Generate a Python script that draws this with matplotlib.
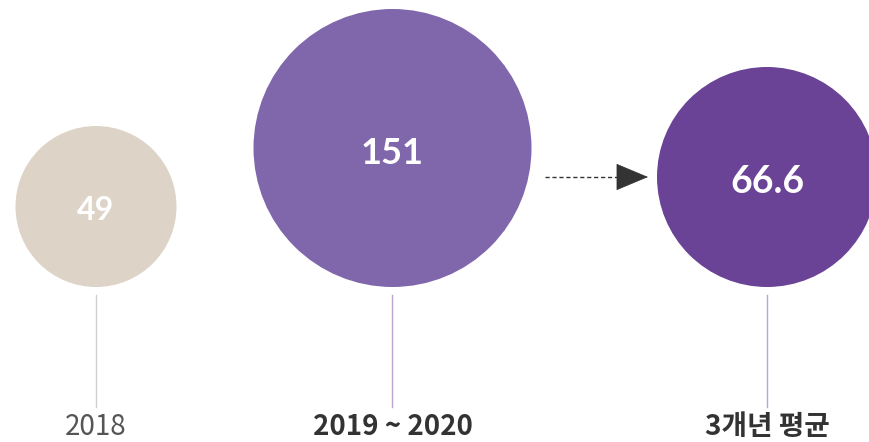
import matplotlib.pyplot as plt
from matplotlib.patches import Circle

plt.rcParams['font.family'] = ['Noto Sans CJK KR', 'DejaVu Sans']

# data
periods = ['2018', '2019 ~ 2020', '3개년 평균']
values = [49, 151, 66.6]
value_text = ['49', '151', '66.6']

# layout (pixels)
centers_x = [96, 392.5, 767]
centers_y = [206.5, 148, 177]
radii = [80.5, 139, 110]
circle_colors = ['#DDD3C7', '#8066AA', '#6A4396']
stem_colors = ['#D0D0D0', '#B7A5D2', '#B7A5D2']
label_colors = ['#555555', '#333333', '#333333']
label_weights = ['normal', 'bold', 'bold']
value_sizes = [23, 26, 27]

fig = plt.figure(figsize=(8.7, 4.42), dpi=100)
ax = fig.add_axes([0, 0, 1, 1])
ax.set_xlim(0, 870)
ax.set_ylim(442, 0)
ax.set_aspect('equal')
ax.axis('off')

for i in range(len(values)):
    ax.add_patch(Circle((centers_x[i], centers_y[i]), radii[i],
                        color=circle_colors[i], lw=0))
    ax.text(centers_x[i], centers_y[i] + 2, value_text[i], color='white',
            fontsize=value_sizes[i], ha='center', va='center_baseline',
            family=['Lato', 'DejaVu Sans'], fontweight='bold')
    ax.plot([centers_x[i], centers_x[i]], [295, 407],
            color=stem_colors[i], lw=1)
    ax.text(centers_x[i], 427, periods[i], color=label_colors[i],
            fontsize=20, ha='center', va='center',
            fontweight=label_weights[i])

# arrow from 2019~2020 to the average: dashed shaft + solid head
ax.plot([545, 628], [177, 177], color='#333333', lw=1, linestyle=(0, (3, 2)))
ax.annotate('', xy=(648, 177), xytext=(626, 177),
            arrowprops=dict(arrowstyle='-|>,head_length=1.55,head_width=0.65',
                            mutation_scale=14, color='#333333', lw=0.5,
                            shrinkA=0, shrinkB=0))

fig.savefig('out.png', dpi=100)
